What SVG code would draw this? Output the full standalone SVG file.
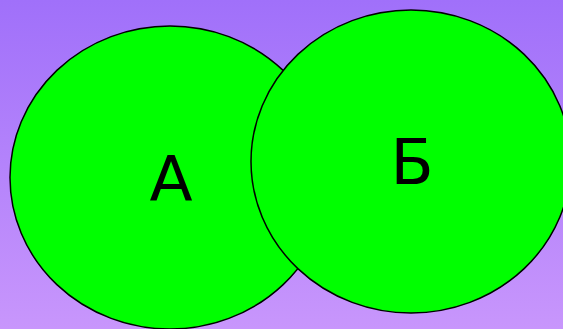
<svg xmlns="http://www.w3.org/2000/svg" width="563" height="329" viewBox="0 0 563 329">
<defs>
<linearGradient id="bg" x1="0" y1="0" x2="0" y2="1">
<stop offset="0" stop-color="#a070fa"/>
<stop offset="1" stop-color="#c896fc"/>
</linearGradient>
<style>
.c{fill:#00ff00;stroke:#000;stroke-width:1.5}
.t{font-family:"DejaVu Sans","Liberation Sans",sans-serif;font-size:63px;fill:#000;text-anchor:middle}
</style>
</defs>
<rect width="563" height="329" fill="url(#bg)"/>
<g id="nodeA">
<ellipse class="c" cx="170" cy="177.5" rx="160" ry="151.5"/>
<text class="t" x="171" y="201">А</text>
</g>
<g id="nodeB">
<ellipse class="c" cx="411" cy="161.5" rx="160" ry="151.5"/>
<text class="t" x="412" y="184">Б</text>
</g>
<g id="connectors"/>
</svg>
